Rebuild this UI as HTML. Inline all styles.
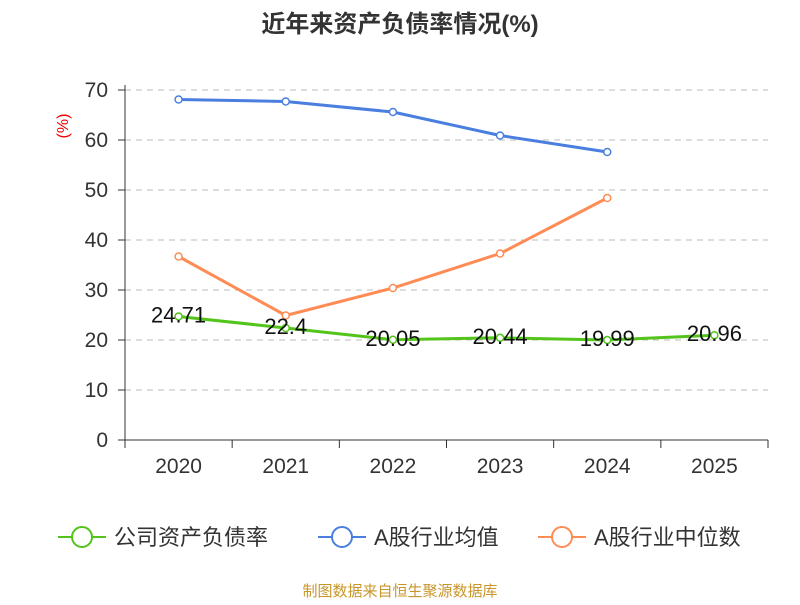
<!DOCTYPE html>
<html><head><meta charset="utf-8"><style>
body{margin:0;background:#fff}
svg text{font-family:"Liberation Sans","Noto Sans CJK SC",sans-serif}
</style></head><body>
<svg id="chart" width="800" height="600" xmlns="http://www.w3.org/2000/svg">
<text x="400" y="32" text-anchor="middle" font-size="24" font-weight="bold" fill="#333">近年来资产负债率情况(%)</text>
<text transform="translate(68,126) rotate(-90)" text-anchor="middle" font-size="16" fill="#e00">(%)</text>
<g id="grid"></g><g id="axes"></g><g id="series"></g>
<g id="legend" font-size="22" fill="#333">
<g><line x1="58" y1="537" x2="106" y2="537" stroke="#52c41a" stroke-width="2"/><circle cx="82" cy="537" r="10" fill="#fff" stroke="#52c41a" stroke-width="2"/><text x="114" y="545">公司资产负债率</text></g>
<g><line x1="318" y1="537" x2="366" y2="537" stroke="#4a7fe0" stroke-width="2"/><circle cx="342" cy="537" r="10" fill="#fff" stroke="#4a7fe0" stroke-width="2"/><text x="374" y="545">A股行业均值</text></g>
<g><line x1="538" y1="537" x2="586" y2="537" stroke="#ff8c55" stroke-width="2"/><circle cx="562" cy="537" r="10" fill="#fff" stroke="#ff8c55" stroke-width="2"/><text x="594" y="545">A股行业中位数</text></g>
</g>
<text x="400" y="596" text-anchor="middle" font-size="15" fill="#c8962a">制图数据来自恒生聚源数据库</text>
</svg>
<script>
const categories=["2020","2021","2022","2023","2024","2025"];
const companyValues=[24.71,22.4,20.05,20.44,19.99,20.96];
const industryAvg=[68.1,67.7,65.6,60.9,57.6];
const industryMedian=[36.7,24.9,30.4,37.3,48.4];
const yTicks=[0,10,20,30,40,50,60,70];
const NS="http://www.w3.org/2000/svg";
const x0=125,x1=768,yTop=90,yBot=440,yMax=70;
const bw=(x1-x0)/categories.length;
const xs=i=>x0+bw*(i+0.5);
const ys=v=>yBot-(v/yMax)*(yBot-yTop);
function mk(tag,attrs,parent,text){const e=document.createElementNS(NS,tag);for(const k in attrs)e.setAttribute(k,attrs[k]);if(text!==undefined)e.textContent=text;document.getElementById(parent).appendChild(e);return e;}
yTicks.forEach(t=>{
 if(t>0){const g=mk('line',{x1:x0,x2:x1,y1:ys(t),y2:ys(t),stroke:'#bbb','stroke-dasharray':'6,5'},'grid');
 
 }
 const tk=mk('line',{x1:x0-7,x2:x0,y1:ys(t),y2:ys(t),stroke:'#333'},'axes');
 
 
 const lb=mk('text',{x:x0-17,y:ys(t)+7,'text-anchor':'end','font-size':21,fill:'#333'},'axes',t);
 
 
});
const ya=mk('line',{x1:x0,x2:x0,y1:yTop-5,y2:yBot,stroke:'#333'},'axes');


const xa=mk('line',{x1:x0,x2:x1,y1:yBot,y2:yBot,stroke:'#333'},'axes');


for(let i=0;i<=categories.length;i++){const t=mk('line',{x1:x0+bw*i,x2:x0+bw*i,y1:yBot,y2:yBot+8,stroke:'#333'},'axes');
 
 }
categories.forEach((c,i)=>{const t=mk('text',{x:xs(i),y:yBot+33,'text-anchor':'middle','font-size':21,fill:'#333'},'axes',c);
 
 });
function series(vals,color,name,labels){
 const p=mk('polyline',{points:vals.map((v,i)=>xs(i)+','+ys(v)).join(' '),fill:'none',stroke:color,'stroke-width':3},'series');
 
 
 vals.forEach((v,i)=>{const c=mk('circle',{cx:xs(i),cy:ys(v),r:3.5,fill:'#fff',stroke:color,'stroke-width':1.5},'series');
  
  
  if(labels){const t=mk('text',{x:xs(i),y:ys(v)+6,'text-anchor':'middle','font-size':22,fill:'#111'},'series',v);
   
   }
 });
}
series(industryAvg,'#4a7fe0','industry-avg',false);
series(industryMedian,'#ff8c55','industry-median',false);
series(companyValues,'#52c41a','company',true);
</script>
</body></html>
